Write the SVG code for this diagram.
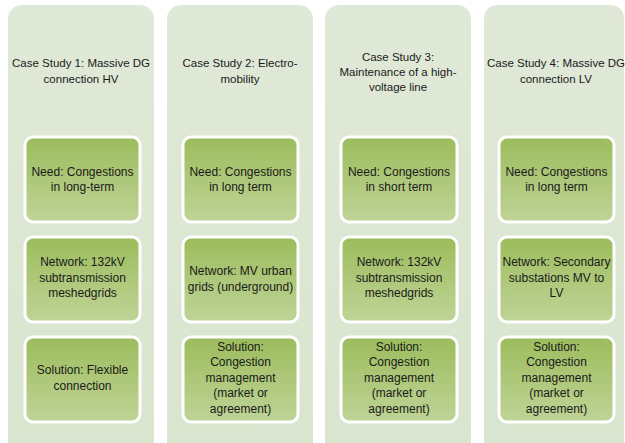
<svg xmlns="http://www.w3.org/2000/svg" width="625" height="443" viewBox="0 0 625 443">
  <defs>
    <linearGradient id="colFill" x1="0" y1="0" x2="0" y2="1">
      <stop offset="0" stop-color="#e0e9d7"/>
      <stop offset="1" stop-color="#d9e5cf"/>
    </linearGradient>
    <linearGradient id="boxFill" x1="0" y1="0" x2="0" y2="1">
      <stop offset="0" stop-color="#9cbc5c"/>
      <stop offset="1" stop-color="#bfd497"/>
    </linearGradient>
  </defs>
  <style>
    .col { fill: url(#colFill); }
    .box { fill: url(#boxFill); stroke: #ffffff; stroke-width: 3; }
    text { font-family: "Liberation Sans", Arial, sans-serif; fill: #1a1a1a; text-anchor: middle; }
    .title { font-size: 11.5px; }
    .body { font-size: 12px; }
  </style>
  <rect width="625" height="443" fill="#ffffff"/>

  <!-- Case study 1 -->
  <g id="case1">
    <rect class="col" x="8" y="5" width="146" height="452" rx="14"/>
    <text class="title" x="81" y="67">Case Study 1: Massive DG</text>
    <text class="title" x="81" y="83">connection HV</text>
  </g>
  <g id="case1-need">
    <rect class="box" x="25" y="137" width="115" height="85" rx="8"/>
    <text class="body" x="82.5" y="176">Need: Congestions</text>
    <text class="body" x="82.5" y="191">in long-term</text>
  </g>
  <g id="case1-network">
    <rect class="box" x="25" y="237" width="115" height="85" rx="8"/>
    <text class="body" x="82.5" y="266">Network: 132kV</text>
    <text class="body" x="82.5" y="282">subtransmission</text>
    <text class="body" x="82.5" y="297">meshedgrids</text>
  </g>
  <g id="case1-solution">
    <rect class="box" x="25" y="337" width="115" height="85" rx="8"/>
    <text class="body" x="82.5" y="374">Solution: Flexible</text>
    <text class="body" x="82.5" y="390">connection</text>
  </g>

  <!-- Case study 2 -->
  <g id="case2">
    <rect class="col" x="167" y="5" width="146" height="452" rx="14"/>
    <text class="title" x="240" y="67">Case Study 2: Electro-</text>
    <text class="title" x="240" y="83">mobility</text>
  </g>
  <g id="case2-need">
    <rect class="box" x="183" y="137" width="115" height="85" rx="8"/>
    <text class="body" x="240.5" y="176">Need: Congestions</text>
    <text class="body" x="240.5" y="191">in long term</text>
  </g>
  <g id="case2-network">
    <rect class="box" x="183" y="237" width="115" height="85" rx="8"/>
    <text class="body" x="240.5" y="275">Network: MV urban</text>
    <text class="body" x="240.5" y="291">grids (underground)</text>
  </g>
  <g id="case2-solution">
    <rect class="box" x="183" y="337" width="115" height="85" rx="8"/>
    <text class="body" x="240.5" y="350.5">Solution:</text>
    <text class="body" x="240.5" y="366">Congestion</text>
    <text class="body" x="240.5" y="381.5">management</text>
    <text class="body" x="240.5" y="397">(market or</text>
    <text class="body" x="240.5" y="413">agreement)</text>
  </g>

  <!-- Case study 3 -->
  <g id="case3">
    <rect class="col" x="325" y="5" width="146" height="452" rx="14"/>
    <text class="title" x="398" y="61">Case Study 3:</text>
    <text class="title" x="398" y="76">Maintenance of a high-</text>
    <text class="title" x="398" y="91">voltage line</text>
  </g>
  <g id="case3-need">
    <rect class="box" x="341" y="137" width="116" height="85" rx="8"/>
    <text class="body" x="399" y="176">Need: Congestions</text>
    <text class="body" x="399" y="191">in short term</text>
  </g>
  <g id="case3-network">
    <rect class="box" x="341" y="237" width="116" height="85" rx="8"/>
    <text class="body" x="399" y="266">Network: 132kV</text>
    <text class="body" x="399" y="282">subtransmission</text>
    <text class="body" x="399" y="297">meshedgrids</text>
  </g>
  <g id="case3-solution">
    <rect class="box" x="341" y="337" width="116" height="85" rx="8"/>
    <text class="body" x="399" y="350.5">Solution:</text>
    <text class="body" x="399" y="366">Congestion</text>
    <text class="body" x="399" y="381.5">management</text>
    <text class="body" x="399" y="397">(market or</text>
    <text class="body" x="399" y="413">agreement)</text>
  </g>

  <!-- Case study 4 -->
  <g id="case4">
    <rect class="col" x="484" y="5" width="140" height="452" rx="13"/>
    <text class="title" x="556" y="67">Case Study 4: Massive DG</text>
    <text class="title" x="556" y="83">connection LV</text>
  </g>
  <g id="case4-need">
    <rect class="box" x="499" y="137" width="115" height="85" rx="8"/>
    <text class="body" x="556.5" y="176">Need: Congestions</text>
    <text class="body" x="556.5" y="191">in long term</text>
  </g>
  <g id="case4-network">
    <rect class="box" x="499" y="237" width="115" height="85" rx="8"/>
    <text class="body" x="556.5" y="266">Network: Secondary</text>
    <text class="body" x="556.5" y="282">substations MV to</text>
    <text class="body" x="556.5" y="297">LV</text>
  </g>
  <g id="case4-solution">
    <rect class="box" x="499" y="337" width="115" height="85" rx="8"/>
    <text class="body" x="556.5" y="350.5">Solution:</text>
    <text class="body" x="556.5" y="366">Congestion</text>
    <text class="body" x="556.5" y="381.5">management</text>
    <text class="body" x="556.5" y="397">(market or</text>
    <text class="body" x="556.5" y="413">agreement)</text>
  </g>

  <!-- no connectors in this layout -->
  <g id="connectors"/>
</svg>
